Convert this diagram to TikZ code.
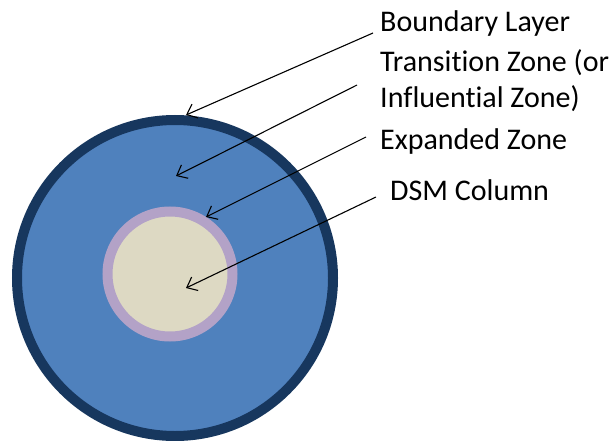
\documentclass[tikz,border=0pt]{standalone}
\usepackage{fontspec}
\setmainfont[Ligatures=NoCommon]{Carlito}
\usetikzlibrary{arrows.meta}
\definecolor{navyring}{HTML}{17375E}
\definecolor{zoneblue}{HTML}{4F81BD}
\definecolor{lilac}{HTML}{B3A2C7}
\definecolor{cream}{HTML}{DDD9C3}

\begin{document}
\begin{tikzpicture}[
            x=1pt, y=-1pt,
            >={Straight Barb[length=9pt,width=15pt]},
            zone/.style={circle, inner sep=0pt},
            label/.style={anchor=west, align=left, inner sep=0pt, font=\fontsize{30}{36}\selectfont},
            arrow/.style={->, line width=1.1pt}
        ]
        \useasboundingbox (0,0) rectangle (610,441);
        \node[zone, draw=navyring, line width=10pt, fill=zoneblue, minimum size=316pt] (outer) at (175,278) {};
        \node[zone, draw=lilac, line width=10pt, fill=cream, minimum size=125pt] (column) at (170,274) {};

        \node[label] (boundary) at (380,24) {Boundary Layer};
        \node[label] (transition) at (380,81) {Transition Zone (or\\Influential Zone)};
        \node[label] (expanded) at (380,142) {Expanded Zone};
        \node[label] (dsm) at (390,190) {DSM Column};

        \coordinate (bl-tail) at (373,33);
        \coordinate (bl-tip) at (186,115);
        \coordinate (tr-tail) at (357,85);
        \coordinate (tr-tip) at (176,176);
        \coordinate (ex-tail) at (366,137);
        \coordinate (ex-tip) at (206,217);
        \coordinate (dsm-tail) at (376,197);
        \coordinate (dsm-tip) at (186,288);

        \draw[arrow] (bl-tail) -- (bl-tip);
        \draw[arrow] (tr-tail) -- (tr-tip);
        \draw[arrow] (ex-tail) -- (ex-tip);
        \draw[arrow] (dsm-tail) -- (dsm-tip);
    \end{tikzpicture}
\end{document}
